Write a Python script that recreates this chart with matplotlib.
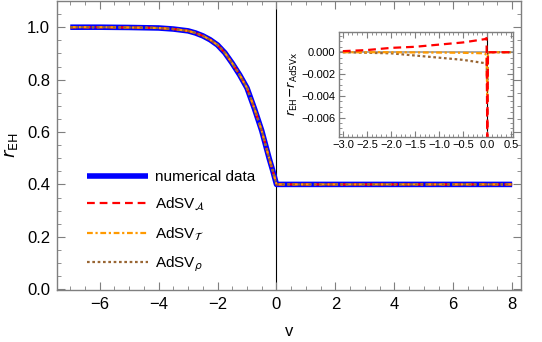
import matplotlib.pyplot as plt
from matplotlib.ticker import MultipleLocator

plt.rcParams['font.family'] = ['Liberation Sans', 'DejaVu Sans']
plt.rcParams['mathtext.fontset'] = 'dejavusans'

# main curve r_EH(v)
v = [-7.0, -6.0, -5.0, -4.0, -3.5, -3.0, -2.75, -2.5, -2.25, -2.0, -1.75,
     -1.5, -1.25, -1.0, -0.75, -0.5, -0.25, -0.125, 0.0, 8.0]
r_eh = [1.0, 1.0, 0.999, 0.997, 0.993, 0.986, 0.978, 0.967, 0.952, 0.932,
        0.902, 0.862, 0.818, 0.768, 0.69, 0.605, 0.50, 0.452, 0.40, 0.40]

# inset: r_EH - r_AdSVx
v_in = [-3.0, -2.5, -2.0, -1.5, -1.0, -0.5, -0.05, -0.01, 0.005, 0.02, 0.5]
diff_A = [0.0001, 0.0002, 0.0004, 0.0005, 0.0007, 0.0009, 0.0012, 0.0013,
          -0.0078, 0.0, 0.0]
diff_T = [0.0, 0.0, 0.0, -0.00002, -0.00003, -0.00005, -0.0001, -0.0003,
          -0.0045, 0.0, 0.0]
diff_rho = [0.0, -0.00005, -0.0001, -0.0003, -0.0005, -0.0007, -0.001,
            -0.001, -0.003, 0.0, 0.0]

labels = ['numerical data', r'AdSV$_{\mathcal{A}}$', r'AdSV$_{\mathcal{T}}$',
          r'AdSV$_{\rho}$']

blue = '#0000ff'
red = '#ff0000'
orange = '#ff9a00'
brown = '#996633'
frame = '#7f7f7f'


def style_frame(ax, size, major, minor, pad):
    for s in ax.spines.values():
        s.set_color(frame)
        s.set_linewidth(1.0)
    ax.tick_params(which='both', direction='in', top=True, right=True,
                   color=frame, labelsize=size, pad=pad)
    ax.tick_params(which='major', length=major)
    ax.tick_params(which='minor', length=minor)


fig = plt.figure(figsize=(5.42, 3.42), dpi=100)
ax = fig.add_axes([57 / 542, 1 - 290 / 342, 464 / 542, 289 / 342])

ax.axvline(0, color='black', lw=0.8, zorder=1)
ax.plot(v, r_eh, color=blue, lw=4, solid_capstyle='butt', label=labels[0])
ax.plot(v, r_eh, color=red, lw=1.6, dashes=(3.5, 2.2), label=labels[1])
ax.plot(v, r_eh, color=orange, lw=1.6, dashes=(2.6, 1.2, 1.0, 1.2),
        label=labels[2])
ax.plot(v, r_eh, color=brown, lw=1.6, dashes=(1.2, 1.2), label=labels[3])

ax.set_xlim(-7.45, 8.3)
ax.set_ylim(-0.003, 1.1)
ax.xaxis.set_minor_locator(MultipleLocator(0.5))
ax.yaxis.set_minor_locator(MultipleLocator(0.05))
ax.set_yticks([0, 0.2, 0.4, 0.6, 0.8, 1.0])
ax.set_yticklabels(['0.0', '0.2', '0.4', '0.6', '0.8', '1.0'])
ax.set_xticks([-6, -4, -2, 0, 2, 4, 6, 8])
ax.set_xticklabels(['\u22126', '\u22124', '\u22122', '0', '2', '4', '6', '8'])
style_frame(ax, 12, 6, 3, 5)
ax.set_xlabel('v', fontsize=12, labelpad=9)
ax.set_ylabel(r'$r_{\mathrm{EH}}$', fontsize=13, labelpad=5)

leg = ax.legend(loc='upper left', bbox_to_anchor=(87 / 542, 1 - 170 / 342),
                bbox_transform=fig.transFigure, frameon=False, fontsize=11,
                handlelength=4.0, handletextpad=0.45, labelspacing=0.78,
                borderpad=0, borderaxespad=0)

# inset
ins = fig.add_axes([339 / 542, 1 - 137 / 342, 174 / 542, 105 / 342])
ins.axhline(0, color='#999999', lw=1.2, zorder=1)
ins.axvline(0, color='black', lw=0.8, zorder=1)
ins.plot(v_in, diff_rho, color=brown, lw=1.6, dashes=(1.2, 1.2))
ins.plot(v_in, diff_T, color=orange, lw=1.6, dashes=(2.6, 1.2, 1.0, 1.2))
ins.plot(v_in, diff_A, color=red, lw=1.6, dashes=(3.5, 2.2))
ins.set_xlim(-3.08, 0.54)
ins.set_ylim(-0.00779, 0.00186)
ins.set_xticks([-3.0, -2.5, -2.0, -1.5, -1.0, -0.5, 0.0, 0.5])
ins.set_xticklabels(['\u22123.0', '\u22122.5', '\u22122.0', '\u22121.5',
                     '\u22121.0', '\u22120.5', '0.0', '0.5'])
ins.xaxis.set_minor_locator(MultipleLocator(0.1))
ins.set_yticks([0.0, -0.002, -0.004, -0.006])
ins.set_yticklabels(['0.000', '\u22120.002', '\u22120.004', '\u22120.006'])
ins.yaxis.set_minor_locator(MultipleLocator(0.0005))
style_frame(ins, 8, 4, 2, 2.5)
ins.set_ylabel(r'$r_{\mathrm{EH}}\!-\!r_{\mathrm{AdSVx}}$', fontsize=9,
               labelpad=1)

fig.savefig('out.png', dpi=100)
